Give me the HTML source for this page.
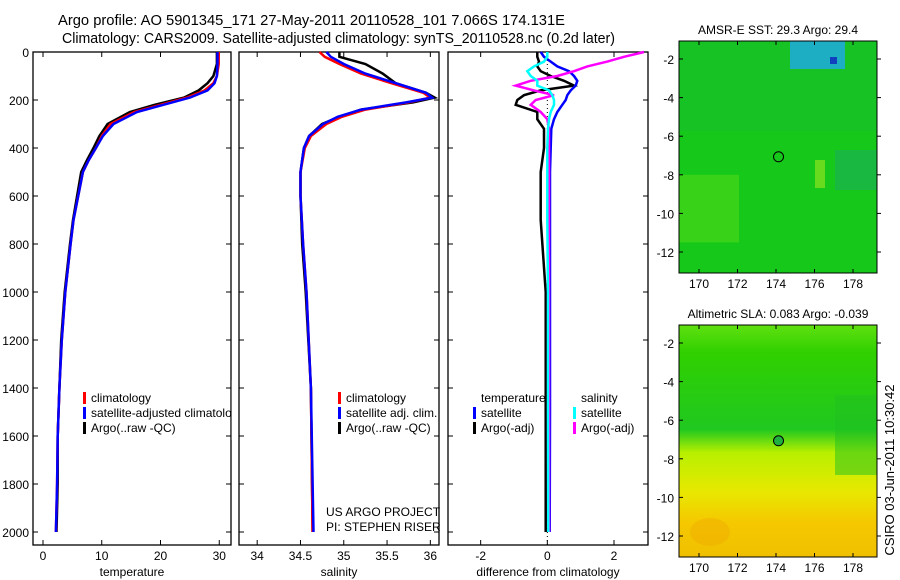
<!DOCTYPE html>
<html><head><meta charset="utf-8"><style>
body{margin:0;background:#fff;}
svg{display:block;font-family:"Liberation Sans",sans-serif;}
</style></head><body>
<svg id="fig" width="900" height="580" viewBox="0 0 900 580">
<text x="58" y="25" font-size="14.7" textLength="507" lengthAdjust="spacingAndGlyphs">Argo profile: AO 5901345_171 27-May-2011 20110528_101 7.066S 174.131E</text>
<text x="62" y="43" font-size="14.7" textLength="553" lengthAdjust="spacingAndGlyphs">Climatology: CARS2009. Satellite-adjusted climatology: synTS_20110528.nc (0.2d later)</text>
<g id="p1"></g>
<g id="p2"></g>
<g id="p3"></g>
<g id="m1"></g>
<g id="m2"></g>
<text transform="translate(894,470) rotate(-90)" font-size="13" text-anchor="middle">CSIRO 03-Jun-2011 10:30:42</text>
</svg>
<script>
const depthTicks=[0,200,400,600,800,1000,1200,1400,1600,1800,2000];
const tempTicks=[0,10,20,30];
const salTicks=[34,34.5,35,35.5,36];
const diffTicks=[-2,0,2];
const tDepth=[0,50,100,130,160,190,220,250,300,350,400,450,500,600,700,800,1000,1200,1400,1600,1800,2000];
const tClim=[29.9,29.9,29.6,29,27.5,24.5,20,15.5,11.5,10,9,7.8,6.8,6,5.2,4.7,3.8,3.2,2.8,2.5,2.4,2.2];
const tSat=[29.7,29.7,29.6,29.2,28,25,20.5,16,12,10.2,9,7.8,6.8,6,5.2,4.7,3.8,3.2,2.8,2.5,2.4,2.2];
const tArgo=[29.6,29.6,29,28,26.5,24,19,14.8,11,9.6,8.6,7.5,6.5,5.8,5.1,4.6,3.7,3.1,2.8,2.5,2.5,2.3];
const sDepth=[0,20,50,90,130,170,190,210,240,270,300,350,400,500,600,800,1000,1400,2000];
const sClim=[34.72,34.78,34.95,35.2,35.55,35.92,36.0,35.75,35.25,34.98,34.8,34.62,34.55,34.5,34.5,34.53,34.57,34.62,34.64];
const sSat=[34.8,34.85,35.0,35.25,35.6,35.95,36.02,35.72,35.2,34.93,34.76,34.6,34.54,34.5,34.5,34.53,34.57,34.62,34.65];
const sArgo=[34.95,34.95,35.25,35.45,35.6,35.95,36.05,35.8,35.2,34.95,34.75,34.6,34.54,34.5,34.5,34.52,34.56,34.62,34.64];
const dDepth=[0,20,40,60,80,100,120,140,160,180,200,220,250,280,320,400,500,700,1000,1500,2000];
const dTsat=[-0.2,-0.1,0.1,0.3,0.65,0.8,0.9,0.85,0.7,0.6,0.55,0.45,0.3,0.2,0.12,0.1,0.08,0.08,0.08,0.08,0.07];
const dTargo=[-0.3,-0.3,-0.25,-0.3,-0.2,0.1,0.5,0.8,-0.2,-0.7,-0.9,-0.95,-0.3,-0.3,-0.1,-0.1,-0.2,-0.2,-0.05,-0.05,-0.05];
const dSsat=[0,0,-0.1,-0.4,-0.6,-0.5,-0.3,-0.3,0.05,0.15,0.2,0.2,0.1,0.05,0.02,0.0,0.0,0.0,0.02,0.02,0.03];
const dSargo=[2.9,2.3,1.8,1.2,0.8,0.3,-0.5,-0.95,-0.4,0.2,-0.35,-0.5,-0.2,0.0,0.05,0.05,0.05,0.05,0.05,0.05,0.05];
const lonTicks=[170,172,174,176,178];
const latTicks=[-2,-4,-6,-8,-10,-12];
const NS='http://www.w3.org/2000/svg';
function mk(p,t,a,txt){const e=document.createElementNS(NS,t);for(const k in a)e.setAttribute(k,a[k]);if(txt!==undefined)e.textContent=txt;p.appendChild(e);return e;}
const Y0=52,Y1=545;
const yD=d=>52+d*0.24;
function panel(g,x0,x1,xmin,xmax,xt,lab,leftLabels,xlab){
  const sx=v=>x0+(v-xmin)/(xmax-xmin)*(x1-x0);
  const r=mk(g,'rect',{x:x0,y:Y0,width:x1-x0,height:Y1-Y0,fill:'#fff',stroke:'#000','stroke-width':1.3});
  
  depthTicks.forEach(d=>{mk(g,'line',{x1:x0,x2:x0+5,y1:yD(d),y2:yD(d),stroke:'#000'});mk(g,'line',{x1:x1,x2:x1-5,y1:yD(d),y2:yD(d),stroke:'#000'});
    if(leftLabels){const t=mk(g,'text',{x:x0-4,y:yD(d)+5,'font-size':12,'text-anchor':'end'},d);}});
  xt.forEach(v=>{mk(g,'line',{x1:sx(v),x2:sx(v),y1:Y1,y2:Y1-5,stroke:'#000'});mk(g,'line',{x1:sx(v),x2:sx(v),y1:Y0,y2:Y0+5,stroke:'#000'});
    const t=mk(g,'text',{x:sx(v),y:Y1+15,'font-size':12,'text-anchor':'middle'},v);});
  const t=mk(g,'text',{x:(x0+x1)/2,y:576,'font-size':12,'text-anchor':'middle'},lab);
  return sx;
}
function line(g,sx,xs,ds,col,w,name){
  const pts=xs.map((v,i)=>sx(v).toFixed(1)+','+yD(ds[i]).toFixed(1)).join(' ');
  const p=mk(g,'polyline',{points:pts,fill:'none',stroke:col,'stroke-width':w});
  
}
function legend(g,x,y,items,clipW){
  items.forEach((it,i)=>{mk(g,'rect',{x:x,y:y+i*15-10,width:3,height:12,fill:it[0]});
    const t=mk(g,'text',{x:x+8,y:y+i*15,'font-size':12},it[1]);});
}
const p1=document.getElementById('p1');
const sx1=panel(p1,33,231,-1.7,32,tempTicks,'temperature',true);
line(p1,sx1,tArgo,tDepth,'#000',2.5,'temperature-argo-line');
line(p1,sx1,tClim,tDepth,'#f00',2.5,'temperature-climatology-line');
line(p1,sx1,tSat,tDepth,'#00f',2.5,'temperature-satellite-line');
legend(p1,83,402,[['#f00','climatology'],['#00f','satellite-adjusted climatology'],['#000','Argo(..raw -QC)']]);
const p2=document.getElementById('p2');
mk(p2,'rect',{x:231.7,y:380,width:7,height:60,fill:'#fff'});
const sx2=panel(p2,239,439,33.79,36.1,salTicks,'salinity',false);
line(p2,sx2,sArgo,sDepth,'#000',2.5,'salinity-argo-line');
line(p2,sx2,sClim,sDepth,'#f00',2.5,'salinity-climatology-line');
line(p2,sx2,sSat,sDepth,'#00f',2.5,'salinity-satellite-line');
legend(p2,338,402,[['#f00','climatology'],['#00f','satellite adj. clim.'],['#000','Argo(..raw -QC)']]);
mk(p2,'text',{x:326,y:516,'font-size':12},'US ARGO PROJECT');
mk(p2,'text',{x:326,y:531,'font-size':12},'PI: STEPHEN RISER');
const p3=document.getElementById('p3');
const sx3=panel(p3,448,648,-2.98,3.02,diffTicks,'difference from climatology',false);
mk(p3,'line',{x1:sx3(0),x2:sx3(0),y1:Y0,y2:Y1,stroke:'#000','stroke-dasharray':'1,3'});
line(p3,sx3,dTargo,dDepth,'#000',2.5,'temp-argo-diff-line');
line(p3,sx3,dTsat,dDepth,'#00f',2.5,'temp-satellite-diff-line');
line(p3,sx3,dSargo,dDepth,'#f0f',2.5,'salinity-argo-diff-line');
line(p3,sx3,dSsat,dDepth,'#0ff',2.5,'salinity-satellite-diff-line');
mk(p3,'text',{x:481,y:402,'font-size':12},'temperature');
mk(p3,'text',{x:581,y:402,'font-size':12},'salinity');
legend(p3,473,417,[['#00f','satellite'],['#000','Argo(-adj)']]);
legend(p3,573,417,[['#0ff','satellite'],['#f0f','Argo(-adj)']]);
function map(g,y0,y1,lat2y,lat12y,title,kind){
  const x0=679,x1=877;
  const sx=v=>699+(v-170)*(853-699)/8;
  const sy=v=>lat2y+(v+2)*(lat12y-lat2y)/-10;
  const d=mk(g,'defs',{});
  if(kind==='sst'){
    mk(g,'rect',{x:x0,y:y0,width:x1-x0,height:y1-y0,fill:'#16c81a'});
    mk(g,'rect',{x:x0,y:sy(-8),width:60,height:sy(-11.5)-sy(-8),fill:'#50d818',opacity:0.6});
    mk(g,'rect',{x:x0,y:y0,width:x1-x0,height:90,fill:'#18b838',opacity:0.4});
    mk(g,'rect',{x:790,y:y0,width:55,height:28,fill:'#1eaae0',opacity:0.85});
    mk(g,'rect',{x:830,y:57,width:7,height:7,fill:'#1040c0'});
    mk(g,'rect',{x:815,y:160,width:10,height:28,fill:'#7ee020',opacity:0.8});
    mk(g,'rect',{x:835,y:150,width:42,height:40,fill:'#1aa868',opacity:0.5});
  } else {
    const lg=mk(d,'linearGradient',{id:'slag',x1:0,y1:0,x2:0,y2:1});
    [[0,'#60e010'],[0.12,'#30d000'],[0.45,'#20c820'],[0.55,'#b8f000'],[0.72,'#e8e800'],[0.85,'#f5c800'],[1,'#f0c000']].forEach(s=>mk(lg,'stop',{offset:s[0],'stop-color':s[1]}));
    mk(g,'rect',{x:x0,y:y0,width:x1-x0,height:y1-y0,fill:'url(#slag)'});
    mk(g,'rect',{x:835,y:y0+70,width:42,height:80,fill:'#20c020',opacity:0.5});
    mk(g,'ellipse',{cx:710,cy:y1-25,rx:20,ry:14,fill:'#f0a800',opacity:0.4});
  }
  mk(g,'rect',{x:x0,y:y0,width:x1-x0,height:y1-y0,fill:'none',stroke:'#000','stroke-width':1});
  mk(g,'circle',{cx:sx(174.131),cy:sy(-7.066),r:5,fill:kind==='sla'?'#20b040':'none',stroke:'#000','stroke-width':1});
  lonTicks.forEach(v=>{mk(g,'line',{x1:sx(v),x2:sx(v),y1:y1,y2:y1-4,stroke:'#000'});mk(g,'line',{x1:sx(v),x2:sx(v),y1:y0,y2:y0+4,stroke:'#000'});
    const t=mk(g,'text',{x:sx(v),y:y1+15,'font-size':12,'text-anchor':'middle'},v);});
  latTicks.forEach(v=>{mk(g,'line',{x1:x0,x2:x0+4,y1:sy(v),y2:sy(v),stroke:'#000'});mk(g,'line',{x1:x1,x2:x1+4,y1:sy(v),y2:sy(v),stroke:'#000'});
    const t=mk(g,'text',{x:x0-5,y:sy(v)+5,'font-size':12,'text-anchor':'end'},v);});
  const t=mk(g,'text',{x:778,y:y0-7,'font-size':12,'text-anchor':'middle'},title);
}
map(document.getElementById('m1'),41,273,59,252,'AMSR-E SST: 29.3 Argo: 29.4','sst');
map(document.getElementById('m2'),325,557,343,536,'Altimetric SLA: 0.083 Argo: -0.039','sla');
</script>
</body></html>
